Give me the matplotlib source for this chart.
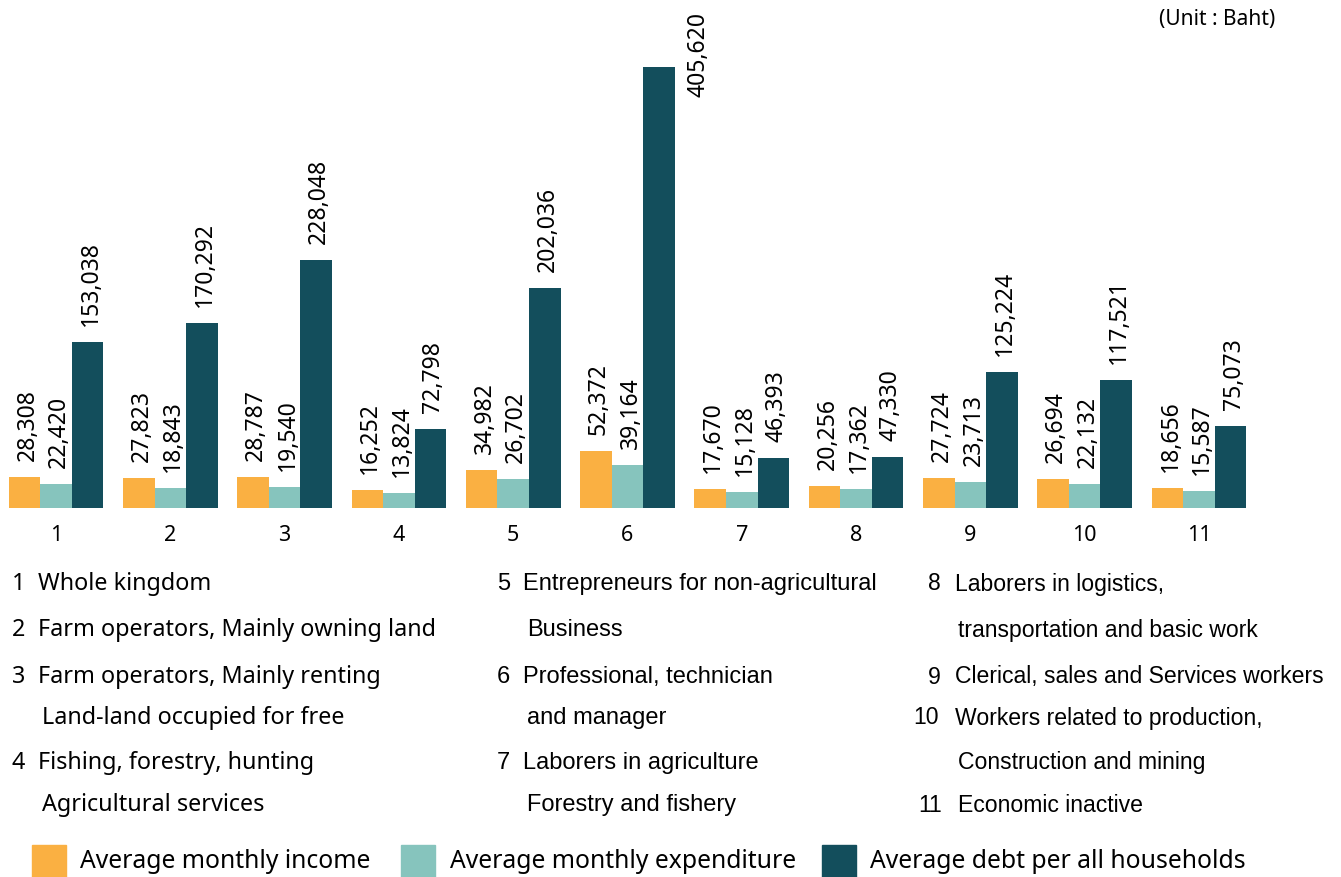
import matplotlib
matplotlib.use("Agg")
import matplotlib.pyplot as plt
from matplotlib.patches import Rectangle
import numpy as np

W, H = 1341, 877
DPI = 100

groups = ["1", "2", "3", "4", "5", "6", "7", "8", "9", "10", "11"]
income = [28308, 27823, 28787, 16252, 34982, 52372, 17670, 20256, 27724, 26694, 18656]
expenditure = [22420, 18843, 19540, 13824, 26702, 39164, 15128, 17362, 23713, 22132, 15587]
debt = [153038, 170292, 228048, 72798, 202036, 405620, 46393, 47330, 125224, 117521, 75073]

series_names = ["Average monthly income", "Average monthly expenditure",
                "Average debt per all households"]
colors = ["#FAB042", "#86C4BD", "#134E5C"]

col1 = [("1", "Whole kingdom", None),
        ("2", "Farm operators, Mainly owning land", None),
        ("3", "Farm operators, Mainly renting", "Land-land occupied for free"),
        ("4", "Fishing, forestry, hunting", "Agricultural services")]
col2 = [("5", "Entrepreneurs for non-agricultural", "Business"),
        ("6", "Professional, technician", "and manager"),
        ("7", "Laborers in agriculture", "Forestry and fishery")]
col3 = [("8", "Laborers in logistics,", "transportation and basic work"),
        ("9", "Clerical, sales and Services workers", None),
        ("10", "Workers related to production,", "Construction and mining"),
        ("11", "Economic inactive", None)]

MAIN = ["Noto Sans", "DejaVu Sans"]
NARROW = ["Liberation Sans Narrow", "Liberation Sans", "DejaVu Sans"]

fig = plt.figure(figsize=(W / DPI, H / DPI), dpi=DPI)


def fx(px):
    return px / W


def fy(py):
    return 1 - py / H


base_px = 508
step_px = 114.3
x0_px = 56
ax = fig.add_axes([0, fy(base_px), 1, base_px / H])
ax.set_xlim(-x0_px / step_px, (W - x0_px) / step_px)
ax.set_ylim(0, max(debt) * base_px / 441)
for s in ax.spines.values():
    s.set_visible(False)
ax.set_yticks([])

x = np.arange(len(groups))
bw = 0.276
for k, (vals, c) in enumerate(zip([income, expenditure, debt], colors)):
    pos = x + (k - 1) * bw
    bars = ax.bar(pos, vals, width=bw, color=c, edgecolor="none")
    for b, v in zip(bars, vals):
        cx = b.get_x() + b.get_width() / 2
        if v == max(debt):
            ax.annotate(f"{v:,}", xy=(b.get_x() + b.get_width(), v),
                        xytext=(24, 55), textcoords="offset pixels",
                        rotation=90, ha="center", va="top",
                        fontsize=16.5, family=MAIN, annotation_clip=False)
        else:
            ax.annotate(f"{v:,}", xy=(cx, v), xytext=(3, 16),
                        textcoords="offset pixels", rotation=90,
                        ha="center", va="bottom", fontsize=16.5, family=MAIN,
                        annotation_clip=False)

ax.set_xticks(x, groups, fontsize=15.5, family=MAIN)
ax.tick_params(axis="x", length=0, pad=12)

# Unit note
fig.text(fx(1275), fy(20), "(Unit : Baht)", ha="right", va="center",
         fontsize=15, family=MAIN)

# Category key
rows_y = [584, 630, 677, 718, 763, 805]


def draw_col(entries, num_xs, txt_xs, cont_x, fam, size):
    r = 0
    for (num, l1, l2), nx, tx in zip(entries, num_xs, txt_xs):
        fig.text(fx(nx), fy(rows_y[r]), num, ha="left", va="center",
                 fontsize=size, family=fam)
        fig.text(fx(tx), fy(rows_y[r]), l1, ha="left", va="center",
                 fontsize=size, family=fam)
        r += 1
        if l2:
            fig.text(fx(cont_x), fy(rows_y[r]), l2, ha="left", va="center",
                     fontsize=size, family=fam)
            r += 1


draw_col(col1, [12] * 4, [38] * 4, 42, MAIN, 16.8)
draw_col(col2, [497] * 3, [523] * 3, 527, NARROW, 17)
draw_col(col3, [928, 928, 913, 918], [955, 955, 955, 958], 958, NARROW, 16.6)

# Series legend
leg_items = [(32, 80), (401, 450), (822, 870)]
for (sq_x, tx), name, c in zip(leg_items, series_names, colors):
    fig.patches.append(Rectangle((fx(sq_x), fy(877)), 34 / W, 32 / H,
                                 transform=fig.transFigure, color=c))
    fig.text(fx(tx), fy(862), name, ha="left", va="center",
             fontsize=17.8, family=MAIN)

fig.savefig("out.png", dpi=DPI)
